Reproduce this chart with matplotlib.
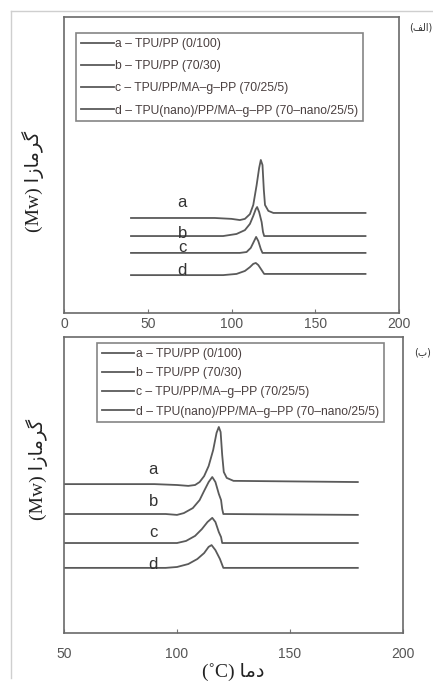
import matplotlib
matplotlib.use('Agg')
import matplotlib.pyplot as plt
from matplotlib.lines import Line2D

# DSC curves (temperature in C, heat flow in arbitrary units)
series_names = ['a', 'b', 'c', 'd']
legend_labels = ['a \u2013 TPU/PP (0/100)',
                 'b \u2013 TPU/PP (70/30)',
                 'c \u2013 TPU/PP/MA\u2013g\u2013PP (70/25/5)',
                 'd \u2013 TPU(nano)/PP/MA\u2013g\u2013PP (70\u2013nano/25/5)']

# panel (الف)
top_a_T = [40, 90, 100, 105, 108, 111, 113, 115, 116.5, 117.5, 118.5, 119.3, 120, 122, 125, 180]
top_a_H = [3.21, 3.21, 3.18, 3.14, 3.18, 3.34, 3.65, 4.32, 4.90, 5.17, 5.00, 4.16, 3.65, 3.45, 3.38, 3.38]
top_b_T = [40, 95, 103, 108, 111, 113, 114.5, 115.3, 116.5, 118, 118.8, 119.5, 180]
top_b_H = [2.60, 2.60, 2.67, 2.80, 3.01, 3.28, 3.51, 3.58, 3.41, 3.07, 2.74, 2.60, 2.60]
top_c_T = [40, 105, 109, 111.5, 113.5, 114.7, 116, 117.5, 118.5, 180]
top_c_H = [2.03, 2.03, 2.06, 2.20, 2.43, 2.57, 2.43, 2.16, 2.03, 2.03]
top_d_T = [40, 95, 103, 108, 111, 113, 114.5, 116, 118, 119.5, 180]
top_d_H = [1.28, 1.28, 1.32, 1.42, 1.55, 1.66, 1.69, 1.62, 1.45, 1.32, 1.32]
top_label_T = 70.5
top_label_H = [3.74, 2.70, 2.20, 1.42]

# panel (ب)
bot_a_T = [50, 90, 100, 105, 108, 110, 112, 114, 116, 117.5, 118.5, 119.3, 120, 120.7, 122, 125, 180]
bot_a_H = [5.03, 5.03, 5.00, 4.97, 5.00, 5.10, 5.30, 5.64, 6.18, 6.76, 6.96, 6.79, 6.01, 5.44, 5.24, 5.14, 5.10]
bot_b_T = [50, 95, 100, 103, 107, 110, 112, 114, 115.6, 117, 118.5, 119.5, 120, 120.5, 180]
bot_b_H = [4.02, 4.02, 3.99, 4.05, 4.22, 4.49, 4.80, 5.10, 5.27, 5.10, 4.70, 4.49, 4.19, 4.02, 3.99]
bot_c_T = [50, 100, 104, 108, 111, 113.5, 115.6, 117, 118.5, 119.5, 120, 180]
bot_c_H = [3.04, 3.04, 3.11, 3.28, 3.51, 3.75, 3.89, 3.75, 3.41, 3.24, 3.04, 3.04]
bot_d_T = [50, 95, 100, 105, 109, 112, 114, 115.3, 117, 119, 120.5, 180]
bot_d_H = [2.20, 2.20, 2.23, 2.33, 2.50, 2.70, 2.91, 2.97, 2.80, 2.50, 2.20, 2.20]
bot_label_T = 89.5
bot_label_H = [5.51, 4.43, 3.38, 2.30]

top_xticks = [0, 50, 100, 150, 200]
bot_xticks = [50, 100, 150, 200]

# Arabic text in visual order with presentation forms (no shaping engine in matplotlib)
ylabel_text = '(Mw) \uFE8D\uFEAF\uFE8E\uFEE3\uFEAE\uFB94'   # گرمازا (Mw)
xlabel_text = '(\u02DAC) \uFE8E\uFEE3\uFEA9'                 # دما (°C)
tag_top = '(\uFED2\uFEDF\uFE8D)'                             # (الف)
tag_bot = '(\uFE8F)'                                         # (ب)

line_color = '#5a5a5a'
text_color = '#555555'
serif = ['Liberation Serif', 'DejaVu Sans']
sans = ['Liberation Sans', 'DejaVu Sans']

fig = plt.figure(figsize=(4.33, 6.89), dpi=100)
fig.patch.set_facecolor('white')

# outer frame of the scanned figure
fig.add_artist(Line2D([11 / 433, 11 / 433], [1 - 11 / 689, 1 - 678 / 689], color='#cfcfcf', lw=1))
fig.add_artist(Line2D([11 / 433, 1], [1 - 11 / 689, 1 - 11 / 689], color='#cfcfcf', lw=1))

ax1 = fig.add_axes([64 / 433, 1 - 313 / 689, 335 / 433, 296 / 689])
ax2 = fig.add_axes([64 / 433, 1 - 633 / 689, 339 / 433, 296 / 689])

top_curves = [(top_a_T, top_a_H), (top_b_T, top_b_H), (top_c_T, top_c_H), (top_d_T, top_d_H)]
bot_curves = [(bot_a_T, bot_a_H), (bot_b_T, bot_b_H), (bot_c_T, bot_c_H), (bot_d_T, bot_d_H)]


def draw_panel(ax, curves, label_T, label_H, xlim, xticks, tick_pad, leg_anchor, leg_spacing):
    for (T, H), lab in zip(curves, legend_labels):
        ax.plot(T, H, color=line_color, lw=1.3, label=lab)
    for name, h in zip(series_names, label_H):
        ax.text(label_T, h, name, ha='center', va='center', fontsize=12,
                color='#333333', family=sans)
    ax.set_xlim(*xlim)
    ax.set_ylim(0, 10)
    ax.set_xticks(xticks)
    ax.set_yticks([])
    ax.tick_params(axis='x', direction='in', length=3, pad=tick_pad,
                   labelsize=10, labelcolor=text_color, color='#777777')
    for lbl in ax.get_xticklabels():
        lbl.set_family(sans)
    for sp in ax.spines.values():
        sp.set_color('#6a6a6a')
        sp.set_linewidth(1.2)
    leg = ax.legend(loc='upper left', bbox_to_anchor=leg_anchor, frameon=True,
                    fancybox=False, handlelength=2.7, handletextpad=0.1,
                    labelspacing=leg_spacing, borderpad=0.4, borderaxespad=0,
                    prop={'family': sans, 'size': 8.7})
    leg.get_frame().set_edgecolor('#666666')
    leg.get_frame().set_linewidth(1.2)
    for t in leg.get_texts():
        t.set_color('#4a4040')


draw_panel(ax1, top_curves, top_label_T, top_label_H, (0, 200), top_xticks, 3,
           (0.036, 0.946), 0.85)
draw_panel(ax2, bot_curves, bot_label_T, bot_label_H, (50, 200), bot_xticks, 10,
           (0.097, 0.98), 0.6)

ax1.text(-0.093, 0.446, ylabel_text, transform=ax1.transAxes, rotation=90,
         ha='center', va='center', fontsize=14, family=serif, color='#222222')
ax2.text(-0.08, 0.554, ylabel_text, transform=ax2.transAxes, rotation=90,
         ha='center', va='center', fontsize=14, family=serif, color='#222222')
ax2.text(0.5, -0.13, xlabel_text, transform=ax2.transAxes, ha='center', va='center',
         fontsize=14, family=serif, color='#222222')

fig.text(409 / 433, 1 - 28 / 689, tag_top, ha='left', va='center', fontsize=7,
         family=['DejaVu Sans'], color='#333333')
fig.text(414 / 433, 1 - 352 / 689, tag_bot, ha='left', va='center', fontsize=7,
         family=['DejaVu Sans'], color='#333333')

fig.savefig('out.png', dpi=100)
